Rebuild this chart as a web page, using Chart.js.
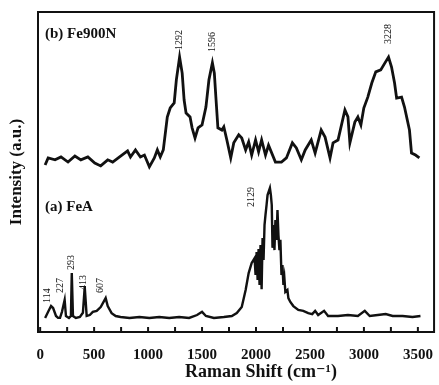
<!DOCTYPE html>
<html>
<head>
<meta charset="utf-8">
<script src="https://cdn.jsdelivr.net/npm/chart.js@4.4.0/dist/chart.umd.min.js"></script>
<style>
  html, body { margin: 0; padding: 0; background: #fff; }
  #wrap { width: 439px; height: 385px; }
</style>
</head>
<body>
<div id="wrap"><canvas id="myChart" width="439" height="385"></canvas></div>
<script>
// (b) Fe900N
const shiftB = [46, 74, 138, 193, 258, 322, 377, 442, 506, 561, 626, 672, 736, 810, 837, 883, 929, 966, 1012, 1058, 1086, 1113, 1141, 1178, 1205, 1242, 1262, 1292, 1316, 1334, 1352, 1389, 1408, 1435, 1463, 1500, 1536, 1564, 1596, 1614, 1630, 1647, 1684, 1702, 1730, 1766, 1794, 1840, 1868, 1904, 1932, 1960, 1996, 2024, 2052, 2088, 2116, 2180, 2236, 2282, 2337, 2374, 2420, 2456, 2512, 2548, 2604, 2640, 2686, 2714, 2760, 2824, 2852, 2870, 2916, 2944, 2972, 2999, 3036, 3073, 3110, 3156, 3195, 3228, 3256, 3284, 3303, 3349, 3376, 3422, 3441, 3478, 3514];
const intensityB = [52.2, 54.4, 53.8, 54.7, 53.1, 55.0, 53.8, 54.7, 52.8, 51.9, 53.8, 53.1, 54.7, 56.6, 54.7, 56.9, 54.7, 55.3, 51.6, 54.4, 56.9, 54.7, 56.9, 67.2, 70.0, 71.6, 78.8, 85.9, 80.9, 72.5, 68.4, 67.2, 63.8, 60.6, 63.8, 64.7, 70.3, 78.8, 84.1, 80.9, 72.5, 63.8, 63.1, 64.1, 60.0, 54.4, 59.1, 61.6, 60.6, 56.9, 59.4, 55.3, 60.0, 56.3, 60.0, 55.3, 58.4, 53.1, 53.1, 54.4, 59.1, 57.5, 53.8, 56.9, 60.0, 55.9, 63.1, 60.9, 54.4, 59.1, 60.0, 69.4, 67.2, 59.1, 65.6, 67.2, 64.7, 70.0, 73.4, 77.8, 81.3, 81.9, 84.1, 85.9, 82.8, 77.8, 73.1, 73.4, 70.3, 63.1, 55.9, 55.3, 54.4];

// (a) FeA
const shiftA = [46, 74, 101, 120, 147, 166, 184, 202, 227, 239, 267, 285, 293, 304, 331, 368, 396, 413, 431, 460, 488, 524, 561, 607, 626, 662, 700, 745, 828, 920, 1012, 1104, 1196, 1288, 1380, 1454, 1500, 1536, 1610, 1702, 1776, 1822, 1868, 1904, 1932, 1960, 1987, 1996, 2006, 2015, 2024, 2033, 2042, 2052, 2061, 2070, 2079, 2088, 2098, 2107, 2129, 2138, 2146, 2153, 2162, 2171, 2180, 2190, 2199, 2208, 2217, 2226, 2236, 2245, 2254, 2263, 2272, 2291, 2300, 2318, 2346, 2392, 2438, 2484, 2521, 2548, 2576, 2631, 2668, 2760, 2852, 2944, 3008, 3054, 3128, 3202, 3266, 3358, 3450, 3524];
const intensityA = [4.4, 6.3, 8.1, 7.5, 5.0, 4.4, 4.4, 6.3, 10.0, 5.0, 4.4, 5.0, 18.4, 5.0, 4.4, 4.7, 6.0, 14.1, 5.0, 5.3, 6.3, 6.6, 7.8, 10.6, 8.1, 5.9, 5.0, 4.7, 4.4, 4.7, 4.4, 4.7, 4.4, 4.7, 4.4, 5.3, 6.3, 5.0, 4.4, 4.7, 5.0, 5.9, 7.8, 13.1, 18.4, 21.6, 23.1, 17.8, 25.0, 16.3, 25.9, 14.7, 27.2, 13.4, 29.4, 22.5, 33.4, 36.6, 39.7, 42.8, 45.0, 42.8, 39.7, 26.3, 33.4, 25.6, 35.0, 28.8, 38.1, 30.3, 25.6, 28.8, 17.8, 20.9, 14.7, 16.9, 12.5, 13.1, 10.6, 9.4, 8.1, 6.9, 6.6, 5.9, 5.6, 6.6, 5.3, 6.6, 5.0, 5.0, 5.3, 5.0, 6.6, 5.0, 5.3, 5.6, 5.0, 5.0, 4.7, 5.0];

const xTicks = [0, 500, 1000, 1500, 2000, 2500, 3000, 3500];

// peak labels: text, x anchor, y anchor (bottom of rotated text)
const peakNotes = [
    { text: '1292', x: 1292, y: 88.1 },
    { text: '1596', x: 1596, y: 87.5 },
    { text: '3228', x: 3228, y: 90.0 },
    { text: '2129', x: 1960, y: 39.1 },
    { text: '114', x: 64, y: 9.1 },
    { text: '227', x: 184, y: 12.2 },
    { text: '293', x: 285, y: 19.4 },
    { text: '413', x: 405, y: 13.1 },
    { text: '607', x: 561, y: 12.2 }
];

const serif = "'Liberation Serif', 'DejaVu Serif', serif";

const decor = {
    id: 'decor',
    afterDraw(chart) {
        const { ctx, chartArea: a, scales } = chart;
        const xs = scales.x, ys = scales.y;
        ctx.save();
        // frame
        ctx.strokeStyle = '#111';
        ctx.lineWidth = 2;
        ctx.strokeRect(a.left, a.top, a.right - a.left, a.bottom - a.top);
        // inward ticks
        xs.ticks.forEach(t => {
            const px = xs.getPixelForValue(t.value);
            ctx.beginPath();
            ctx.moveTo(px, a.bottom);
            ctx.lineTo(px, a.bottom - 5);
            ctx.stroke();
        });
        // panel labels
        ctx.fillStyle = '#111';
        ctx.font = "bold 15px " + serif;
        ctx.textAlign = 'left';
        ctx.textBaseline = 'middle';
        ctx.fillText('(b) Fe900N', a.left + 7, 34);
        ctx.fillText('(a) FeA', a.left + 7, 207);
        // peak labels
        ctx.font = "10px " + serif;
        peakNotes.forEach(n => {
            const px = xs.getPixelForValue(n.x);
            const py = ys.getPixelForValue(n.y);
            ctx.save();
            ctx.translate(px, py);
            ctx.rotate(-Math.PI / 2);
            ctx.textAlign = 'left';
            ctx.textBaseline = 'middle';
            ctx.fillText(n.text, 0, 0);
            ctx.restore();
        });
        // x title
        ctx.font = "bold 18px " + serif;
        ctx.textAlign = 'center';
        ctx.textBaseline = 'middle';
        ctx.fillText('Raman Shift (cm\u207B\u00B9)', (a.left + a.right) / 2 + 25, 372);
        ctx.restore();
    }
};

const ctx = document.getElementById('myChart').getContext('2d');
const myChart = new Chart(ctx, {
    type: 'line',
    data: {
        datasets: [{
            label: 'Fe900N',
            data: shiftB.map((x, i) => ({ x: x, y: intensityB[i] })),
            borderColor: '#111',
            borderWidth: 2.8,
            pointRadius: 0,
            tension: 0
        }, {
            label: 'FeA',
            data: shiftA.map((x, i) => ({ x: x, y: intensityA[i] })),
            borderColor: '#111',
            borderWidth: 2.4,
            pointRadius: 0,
            tension: 0
        }]
    },
    options: {
        responsive: false,
        animation: false,
        events: [],
        layout: { padding: { top: 12, right: 3 } },
        plugins: {
            legend: false,
            tooltip: { enabled: false }
        },
        scales: {
            x: {
                type: 'linear',
                min: -20,
                max: 3650,
                ticks: {
                    stepSize: 250,
                    includeBounds: false,
                    autoSkip: false,
                    maxRotation: 0,
                    padding: 6,
                    color: '#111',
                    font: { family: serif, size: 15, weight: 'bold' },
                    callback: v => xTicks.includes(v) ? String(v) : ''
                },
                grid: { display: false },
                border: { display: false },
                afterFit: s => { s.height = 53; }
            },
            y: {
                min: 0,
                max: 100,
                ticks: { display: false },
                grid: { display: false },
                border: { display: false },
                title: {
                    display: true,
                    text: 'Intensity (a.u.)',
                    color: '#111',
                    padding: { top: 6, bottom: 0 },
                    font: { family: serif, size: 17, weight: 'bold' }
                },
                afterFit: s => { s.width = 38; }
            }
        }
    },
    plugins: [decor]
});
</script>
</body>
</html>
